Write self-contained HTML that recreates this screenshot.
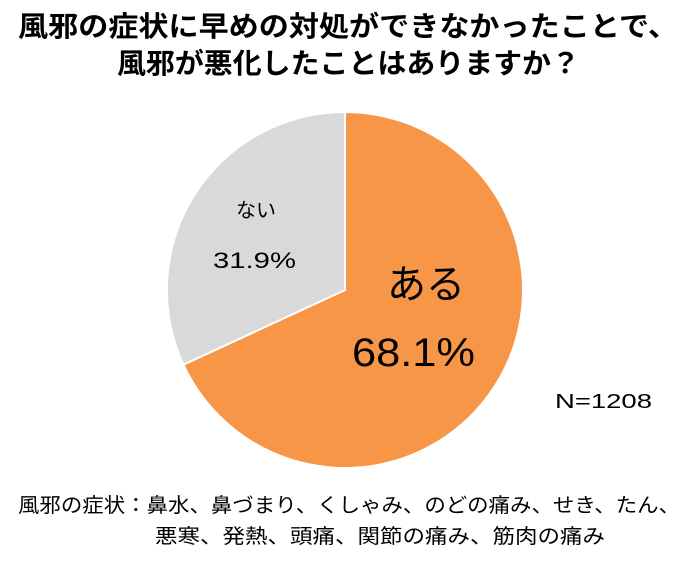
<!DOCTYPE html>
<html><head><meta charset="utf-8"><style>
html,body{margin:0;padding:0;background:#fff;}
body{width:700px;height:562px;position:relative;overflow:hidden;}
text{font-family:"Liberation Sans","Noto Sans CJK JP",sans-serif;fill:#000;}
</style></head><body>
<svg width="700" height="562" style="position:absolute;left:0;top:0">
<text x="18" y="36" font-size="28" font-weight="bold" textLength="660" lengthAdjust="spacingAndGlyphs">風邪の症状に早めの対処ができなかったことで、</text>
<text x="117" y="73" font-size="28" font-weight="bold" textLength="463" lengthAdjust="spacingAndGlyphs">風邪が悪化したことはありますか？</text>
<path d="M345,290 L345,112 A178,178 0 1,1 183.4,364.7 Z" fill="#F79646" stroke="#fff" stroke-width="2"/>
<path d="M345,290 L183.4,364.7 A178,178 0 0,1 345,112 Z" fill="#D9D9D9" stroke="#fff" stroke-width="2"/>
<text x="236" y="217" font-size="20" textLength="40" lengthAdjust="spacingAndGlyphs">ない</text>
<text x="213" y="268" font-size="22" textLength="83" lengthAdjust="spacingAndGlyphs">31.9%</text>
<text x="387" y="298" font-size="40" textLength="78" lengthAdjust="spacingAndGlyphs">ある</text>
<text x="352" y="366" font-size="40" textLength="123" lengthAdjust="spacingAndGlyphs">68.1%</text>
<text x="555" y="408" font-size="20" textLength="97" lengthAdjust="spacingAndGlyphs">N=1208</text>
<text x="18" y="512" font-size="20" textLength="662" lengthAdjust="spacingAndGlyphs">風邪の症状：鼻水、鼻づまり、くしゃみ、のどの痛み、せき、たん、</text>
<text x="155" y="543" font-size="20" textLength="450" lengthAdjust="spacingAndGlyphs">悪寒、発熱、頭痛、関節の痛み、筋肉の痛み</text>
</svg>
</body></html>
